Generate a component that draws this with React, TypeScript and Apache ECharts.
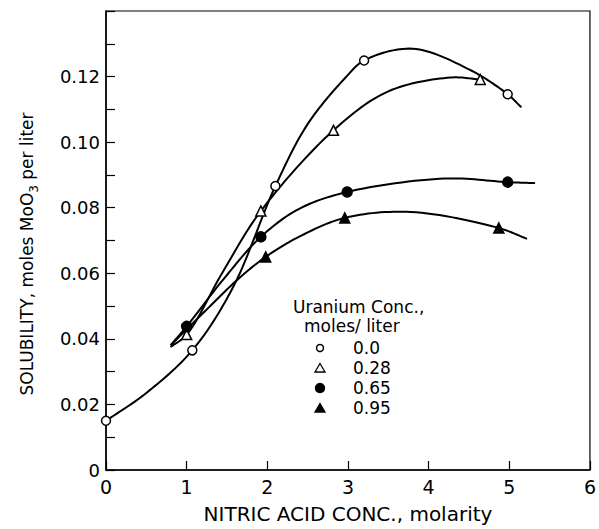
import React, { useEffect, useRef } from "react";
import * as echarts from "echarts";

// Measured points (nitric acid molarity, solubility moles MoO3 / liter)
const acid00 = [0, 1.07, 2.1, 3.2, 4.98];
const sol00 = [0.015, 0.0365, 0.0866, 0.1249, 0.1146];
const acid028 = [1.0, 1.92, 2.82, 4.64];
const sol028 = [0.0413, 0.079, 0.1036, 0.1191];
const acid065 = [1.0, 1.92, 2.99, 4.98];
const sol065 = [0.0438, 0.0711, 0.0848, 0.0878];
const acid095 = [1.98, 2.96, 4.87];
const sol095 = [0.065, 0.0769, 0.0738];

// Hand-drawn fitted curves
const curve00X = [0, 0.5, 1.07, 1.57, 2.1, 2.5, 2.97, 3.2, 3.8, 4.5, 4.98, 5.15];
const curve00Y = [0.015, 0.0235, 0.0365, 0.0555, 0.0866, 0.1055, 0.1197, 0.1249, 0.1285, 0.1222, 0.1146, 0.1106];
const curve028X = [0.8, 1.0, 1.45, 1.92, 2.82, 3.5, 4.27, 4.64];
const curve028Y = [0.0375, 0.0413, 0.0605, 0.079, 0.1036, 0.1155, 0.1197, 0.1191];
const curve065X = [0.8, 1.0, 1.45, 1.92, 2.39, 2.99, 4.2, 4.98, 5.32];
const curve065Y = [0.038, 0.0438, 0.058, 0.0711, 0.0796, 0.0848, 0.0889, 0.0878, 0.0875];
const curve095X = [0.82, 1.25, 1.65, 1.98, 2.39, 2.96, 3.78, 4.87, 5.22];
const curve095Y = [0.0385, 0.049, 0.0585, 0.065, 0.0711, 0.0769, 0.0787, 0.0738, 0.0705];

const legendLabels = ["0.0", "0.28", "0.65", "0.95"];
const xTickLabels = ["0", "1", "2", "3", "4", "5", "6"];
const yLabelValues = [0, 0.02, 0.04, 0.06, 0.08, 0.1, 0.12];
const yLabelTexts = ["0", "0.02", "0.04", "0.06", "0.08", "0.10", "0.12"];

const FONT = "DejaVu Sans";
const zip = (xs: number[], ys: number[]) => xs.map((x, i) => [x, ys[i]]);

// centripetal Catmull-Rom through pixel points, for drawing the traced curves
function catmullRom(pts: number[][], steps = 16): number[][] {
  if (pts.length < 3) return pts;
  const out: number[][] = [];
  const P = [pts[0], ...pts, pts[pts.length - 1]];
  const tj = (ti: number, a: number[], b: number[]) =>
    ti + Math.max(Math.pow(Math.hypot(b[0] - a[0], b[1] - a[1]), 0.5), 1e-4);
  for (let i = 1; i < P.length - 2; i++) {
    const p0 = i === 1 ? [2 * P[1][0] - P[2][0], 2 * P[1][1] - P[2][1]] : P[i - 1];
    const p1 = P[i], p2 = P[i + 1];
    const p3 = i === P.length - 3 ? [2 * P[i + 1][0] - P[i][0], 2 * P[i + 1][1] - P[i][1]] : P[i + 2];
    const t0 = 0, t1 = tj(t0, p0, p1), t2 = tj(t1, p1, p2), t3 = tj(t2, p2, p3);
    for (let s = 0; s < steps; s++) {
      const t = t1 + ((t2 - t1) * s) / steps;
      const lerp = (a: number[], b: number[], ta: number, tb: number) => [
        ((tb - t) / (tb - ta)) * a[0] + ((t - ta) / (tb - ta)) * b[0],
        ((tb - t) / (tb - ta)) * a[1] + ((t - ta) / (tb - ta)) * b[1],
      ];
      const A1 = lerp(p0, p1, t0, t1), A2 = lerp(p1, p2, t1, t2), A3 = lerp(p2, p3, t2, t3);
      const B1 = lerp(A1, A2, t0, t2), B2 = lerp(A2, A3, t1, t3);
      out.push(lerp(B1, B2, t1, t2));
    }
  }
  out.push(pts[pts.length - 1]);
  return out;
}

export default function App() {
  const ref = useRef<HTMLDivElement>(null);
  useEffect(() => {
    if (!ref.current) return;
    const chart = echarts.init(ref.current, null, { renderer: "svg" });
    const curve = (xs: number[], ys: number[]) => ({
      type: "custom",
      data: zip(xs, ys),
      encode: { x: 0, y: 1 },
      silent: true,
      z: 2,
      renderItem: (params: any, api: any) => {
        if (params.dataIndex !== 0) return null;
        const px = xs.map((x, i) => api.coord([x, ys[i]]));
        return {
          type: "polyline",
          shape: { points: catmullRom(px) },
          style: { stroke: "#000", lineWidth: 2, fill: null },
        };
      },
    });
    const marks = (
      name: string,
      xs: number[],
      ys: number[],
      symbol: string,
      filled: boolean,
      size: number
    ) => ({
      type: "scatter",
      name,
      data: zip(xs, ys),
      symbol,
      symbolSize: size,
      itemStyle: {
        color: filled ? "#000" : "#fff",
        borderColor: "#000",
        borderWidth: 1.5,
        opacity: 1,
      },
      z: 5,
    });
    const symbolsForLegend: [string, boolean][] = [
      ["circle", false],
      ["triangle", false],
      ["circle", true],
      ["triangle", true],
    ];
    const legendGraphics: any[] = [];
    legendLabels.forEach((lab, i) => {
      const cy = 348 + i * 20;
      const [sym, filled] = symbolsForLegend[i];
      if (sym === "circle") {
        legendGraphics.push({
          type: "circle",
          shape: { cx: 320, cy, r: filled ? 4.5 : 3.5 },
          style: { fill: filled ? "#000" : "#fff", stroke: "#000", lineWidth: 1.5 },
        });
      } else {
        legendGraphics.push({
          type: "polygon",
          shape: { points: [[320, cy - 4.5], [325, cy + 4], [315, cy + 4]] },
          style: { fill: filled ? "#000" : "#fff", stroke: "#000", lineWidth: 1.3 },
        });
      }
      legendGraphics.push({
        type: "text",
        x: 353,
        y: cy,
        style: { text: lab, font: `17px "${FONT}"`, fill: "#000", verticalAlign: "middle", align: "left" },
      });
    });

    chart.setOption({
      animation: false,
      backgroundColor: "#fff",
      grid: {
        left: 106,
        right: 6,
        top: 11,
        bottom: 57,
        show: true,
        borderColor: "#000",
        borderWidth: 1.2,
        containLabel: false,
      },
      xAxis: {
        type: "value",
        min: 0,
        max: 6,
        interval: 1,
        name: "NITRIC ACID CONC., molarity",
        nameLocation: "middle",
        nameGap: 34,
        nameTextStyle: { fontFamily: FONT, fontSize: 20, color: "#000" },
        axisLine: { show: true, lineStyle: { color: "#000", width: 1.5 } },
        axisTick: { show: true, inside: true, length: 9, lineStyle: { color: "#000", width: 1.2 } },
        axisLabel: {
          fontFamily: FONT,
          fontSize: 19,
          color: "#000",
          margin: 7,
          formatter: (v: number) => xTickLabels[Math.round(v)] ?? "",
        },
        splitLine: { show: false },
      },
      yAxis: {
        type: "value",
        min: 0,
        max: 0.14,
        interval: 0.01,
        axisLine: { show: true, lineStyle: { color: "#000", width: 1.5 } },
        axisTick: { show: true, inside: true, length: 9, lineStyle: { color: "#000", width: 1.2 } },
        axisLabel: {
          fontFamily: FONT,
          fontSize: 18,
          color: "#000",
          margin: 6,
          formatter: (v: number) => {
            const idx = yLabelValues.findIndex((t) => Math.abs(t - v) < 1e-6);
            return idx >= 0 ? yLabelTexts[idx] : "";
          },
        },
        splitLine: { show: false },
      },
      graphic: [
        {
          type: "text",
          x: 27,
          y: 254,
          rotation: Math.PI / 2,
          style: {
            text: "SOLUBILITY, moles MoO{sub|3} per liter",
            font: `17px "${FONT}"`,
            fill: "#000",
            align: "center",
            verticalAlign: "middle",
            rich: {
              sub: { fontFamily: FONT, fontSize: 12, fill: "#000", verticalAlign: "bottom", lineHeight: 26 },
            },
          },
        },
        {
          type: "text",
          x: 293,
          y: 307,
          style: { text: "Uranium Conc.,", font: `17px "${FONT}"`, fill: "#000", verticalAlign: "middle" },
        },
        {
          type: "text",
          x: 304,
          y: 326,
          style: { text: "moles/ liter", font: `17px "${FONT}"`, fill: "#000", verticalAlign: "middle" },
        },
        ...legendGraphics,
      ],
      series: [
        curve(curve00X, curve00Y),
        curve(curve028X, curve028Y),
        curve(curve065X, curve065Y),
        curve(curve095X, curve095Y),
        marks(legendLabels[0], acid00, sol00, "circle", false, 9),
        marks(legendLabels[1], acid028, sol028, "triangle", false, 10),
        marks(legendLabels[2], acid065, sol065, "circle", true, 10),
        marks(legendLabels[3], acid095, sol095, "triangle", true, 10),
      ],
    });
    return () => chart.dispose();
  }, []);
  return <div ref={ref} style={{ width: 599, height: 529, position: "fixed", left: 0, top: 0 }} />;
}
